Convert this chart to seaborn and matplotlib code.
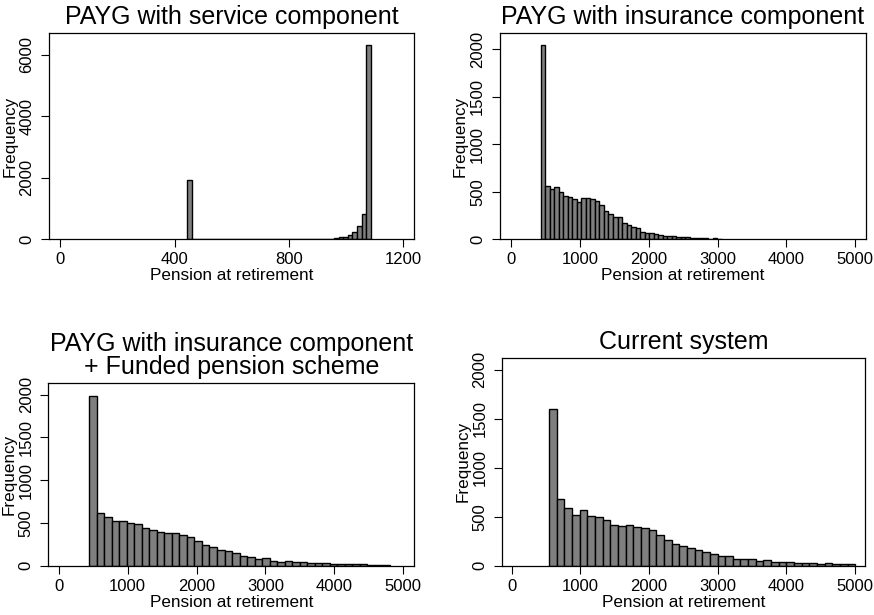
import numpy as np
import pandas as pd
import matplotlib
matplotlib.use("Agg")
import matplotlib.pyplot as plt
import seaborn as sns

# ---------------- data ----------------
titles = [
    "PAYG with service component",
    "PAYG with insurance component",
    "PAYG with insurance component\n+ Funded pension scheme",
    "Current system",
]

# histogram bin parameters (first edge, bin width) – 40 bins each
bin_start = [444, 430, 444, 545]
bin_width = [16.05, 65.7, 109, 111.6]

counts_service = [1920] + [0] * 28 + [8, 15, 25, 40, 60, 90, 140, 250, 433, 830, 6330]
counts_insurance = [2045, 565, 530, 551, 495, 460, 447, 425, 391, 436,
                    429, 419, 398, 356, 293, 265, 237, 230, 174, 154,
                    126, 119, 77, 70, 63, 56, 49, 38, 35, 31,
                    28, 24, 21, 17, 14, 10, 10, 7, 10, 3]
counts_funded = [1981, 615, 572, 521, 521, 494, 490, 440, 412, 393,
                 385, 381, 358, 331, 292, 241, 218, 187, 175, 152,
                 117, 101, 74, 86, 54, 47, 58, 39, 43, 31,
                 27, 27, 23, 23, 19, 19, 16, 12, 12, 8]
counts_current = [1602, 685, 592, 522, 570, 510, 495, 470, 420, 406,
                  413, 390, 380, 364, 313, 260, 223, 199, 184, 160,
                  143, 119, 99, 99, 71, 65, 65, 48, 54, 41,
                  34, 34, 24, 31, 24, 20, 24, 14, 20, 17]
all_counts = [counts_service, counts_insurance, counts_funded, counts_current]

xticks = [[0, 400, 800, 1200], [0, 1000, 2000, 3000, 4000, 5000],
          [0, 1000, 2000, 3000, 4000, 5000], [0, 1000, 2000, 3000, 4000, 5000]]
yticks = [[0, 2000, 4000, 6000], [0, 500, 1000, 1500, 2000],
          [0, 500, 1000, 1500, 2000], [0, 500, 1000, 1500, 2000]]

# ---------------- layout ----------------
xlims = [(-40, 1237), (-164, 5155), (-151, 5160), (-142, 5146)]
ylims = [(0, 6715), (0, 2168), (0, 2140), (0, 2122)]
W, H = 874, 615
boxes_px = [  # left, top, right, bottom in pixels
    (49, 33, 414, 239.3),
    (499.7, 33, 866, 239.3),
    (48.3, 382.7, 414.3, 565.7),
    (502, 357.7, 864.7, 565.7),
]

sns.set_theme(style="ticks")
plt.rcParams["font.family"] = ["Liberation Sans", "DejaVu Sans"]
plt.rcParams["axes.edgecolor"] = "black"
plt.rcParams["text.color"] = "black"
plt.rcParams["axes.labelcolor"] = "black"
plt.rcParams["xtick.color"] = "black"
plt.rcParams["ytick.color"] = "black"

fig = plt.figure(figsize=(W / 100, H / 100), dpi=100)
fig.patch.set_facecolor("white")

for i in range(4):
    l, t, r, b = boxes_px[i]
    ax = fig.add_axes([l / W, 1 - b / H, (r - l) / W, (b - t) / H])
    n = len(all_counts[i])
    edges = (bin_start[i] + bin_width[i] * np.arange(n + 1)).tolist()
    centers = [e + bin_width[i] / 2 for e in edges[:-1]]
    df = pd.DataFrame({"pension": centers, "count": all_counts[i]})
    sns.histplot(data=df, x="pension", weights="count", bins=edges, ax=ax,
                 color="#7f7f7f", edgecolor="black", linewidth=1.0, alpha=1)
    ax.set_xlim(*xlims[i])
    ax.set_ylim(*ylims[i])
    ax.set_xticks(xticks[i])
    ax.set_yticks(yticks[i])
    ax.set_xticklabels([str(v) for v in xticks[i]])
    ax.set_yticklabels([str(v) for v in yticks[i]], rotation=90, va="center")
    ax.tick_params(direction="out", length=5.5, width=0.8, labelsize=12, pad=4)
    ax.tick_params(axis="y", pad=5)
    for s in ax.spines.values():
        s.set_visible(True)
        s.set_linewidth(0.9)
        s.set_color("black")
    ax.set_xlabel("Pension at retirement", fontsize=12.3, labelpad=0.5)
    ax.set_ylabel("Frequency", fontsize=12.3, labelpad=1.5)
    ax.set_title(titles[i], fontsize=18, pad=6.5, linespacing=0.92)
    ax.grid(False)

fig.savefig("out.png", dpi=100, facecolor="white")
